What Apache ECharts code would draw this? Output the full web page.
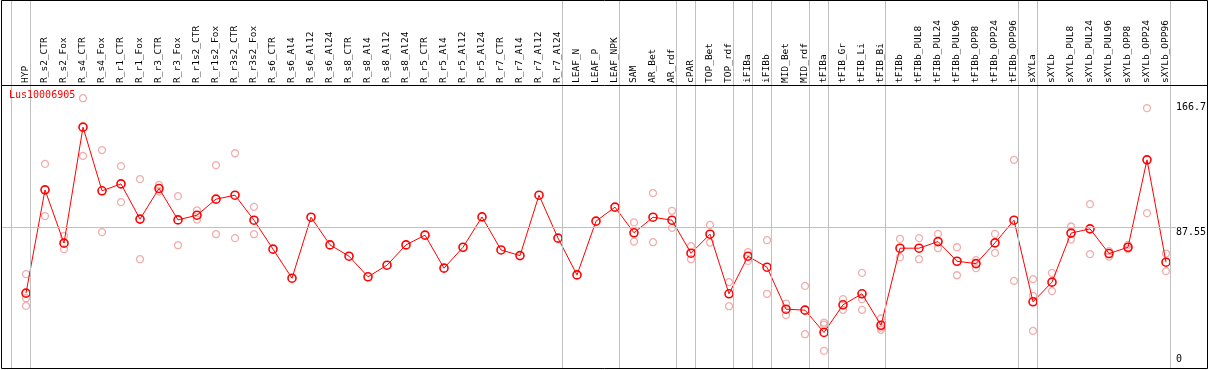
<!DOCTYPE html>
<html>
<head>
<meta charset="utf-8">
<script src="https://cdn.jsdelivr.net/npm/echarts@6/dist/echarts.min.js"></script>
<style>html,body{margin:0;padding:0;background:#fff;}#c{width:1209px;height:370px;}</style>
</head>
<body>
<div id="c"></div>
<script>
var title = 'Lus10006905';
var categories = ['HYP','R_s2_CTR','R_s2_Fox','R_s4_CTR','R_s4_Fox','R_r1_CTR','R_r1_Fox','R_r3_CTR','R_r3_Fox','R_r1s2_CTR','R_r1s2_Fox','R_r3s2_CTR','R_r3s2_Fox','R_s6_CTR','R_s6_Al4','R_s6_Al12','R_s6_Al24','R_s8_CTR','R_s8_Al4','R_s8_Al12','R_s8_Al24','R_r5_CTR','R_r5_Al4','R_r5_Al12','R_r5_Al24','R_r7_CTR','R_r7_Al4','R_r7_Al12','R_r7_Al24','LEAF_N','LEAF_P','LEAF_NPK','SAM','AR_Bet','AR_rdf','cPAR','TOP_Bet','TOP_rdf','iFIBa','iFIBb','MID_Bet','MID_rdf','tFIBa','tFIB_Gr','tFIB_Li','tFIB_Bi','tFIBb','tFIBb_PUL8','tFIBb_PUL24','tFIBb_PUL96','tFIBb_OPP8','tFIBb_OPP24','tFIBb_OPP96','sXYLa','sXYLb','sXYLb_PUL8','sXYLb_PUL24','sXYLb_PUL96','sXYLb_OPP8','sXYLb_OPP24','sXYLb_OPP96'];
var means = [45.6,111.3,77.4,151.2,110.7,115.1,92.7,112.2,92.2,95.2,105.4,107.9,92.0,73.6,55.1,93.9,76.3,69.1,56.0,63.4,76.3,82.5,61.5,74.8,94.1,73.1,69.5,107.9,80.6,57.2,91.4,100.3,84.0,93.9,92.0,71.0,83.1,45.2,69.1,62.1,35.4,34.8,20.6,38.2,45.2,25.2,74.2,74.2,78.4,65.9,64.4,77.6,92.0,40.1,52.6,83.8,86.5,70.8,74.8,130.4,65.3];
var rep1 = [57.7,127.8,82.0,169.6,136.6,126.4,118.1,114.5,107.3,98.2,127.0,134.6,100.5,null,null,null,null,null,null,null,null,null,null,null,null,null,null,null,null,null,null,null,90.6,109.2,98.0,75.5,89.0,52.6,71.7,79.3,39.0,50.2,26.8,41.8,58.5,29.5,80.1,80.6,83.3,74.8,66.6,83.3,130.4,54.5,58.5,88.0,102.2,72.3,76.3,163.3,70.8];
var rep2 = [42.4,94.6,73.6,132.9,84.4,103.5,67.2,110.2,76.1,92.4,83.1,80.6,83.1,null,null,null,null,null,null,null,null,null,null,null,null,null,null,null,null,null,null,null,78.4,78.0,87.1,67.2,77.8,37.3,66.1,45.2,31.6,19.5,25.6,35.0,41.8,23.7,68.5,67.2,74.2,57.0,61.5,71.2,53.4,43.9,46.9,79.7,70.4,68.9,73.6,96.5,59.6];
var rep3 = [37.5,null,null,null,null,null,null,null,null,null,null,null,null,null,null,null,null,null,null,null,null,null,null,null,null,null,null,null,null,null,null,null,null,null,null,null,null,null,null,null,null,null,8.9,null,35.0,22.3,null,null,null,null,null,null,null,21.6,null,null,null,null,null,null,null];
var groupEnds = [-1,0,28,31,34,35,37,38,39,41,42,45,52,53,60];
var rightTicksTop = [87.55,166.7];
var rightTicksBottom = [0];

var reps = [];
[rep1, rep2, rep3].forEach(function (r) {
  r.forEach(function (v, i) { if (v !== null) reps.push([i, v]); });
});

var chart = echarts.init(document.getElementById('c'), null, {renderer: 'canvas'});
var mono = 'DejaVu Sans Mono';
var yMin = -2, yMax = 178;
// separator grid spans pixels 1..1198; category i sits at 26 + 19*i
var sepMin = (1 - 26) / 19, sepMax = (1198 - 26) / 19;
chart.setOption({
  animation: false,
  backgroundColor: '#ffffff',
  title: {text: title, left: 9, top: 90, padding: 0,
    textStyle: {color: '#ff0000', fontSize: 10, fontFamily: mono, fontWeight: 'normal'}},
  graphic: [
    {type: 'rect', z: 100, silent: true, shape: {x: 1.5, y: 0.5, width: 1206, height: 368},
      style: {fill: 'none', stroke: '#000', lineWidth: 1}},
    {type: 'line', z: 100, silent: true, shape: {x1: 1.5, y1: 85.5, x2: 1207.5, y2: 85.5},
      style: {stroke: '#000', lineWidth: 1}}
  ],
  grid: [
    {left: 16.5, width: 1159, top: 85, height: 283},
    {left: 1, width: 1197, top: 0, height: 368},
    {left: 1, width: 1177, top: 85, height: 283}
  ],
  xAxis: [
    {type: 'category', gridIndex: 0, position: 'top', data: categories, boundaryGap: true,
      axisLine: {show: false}, axisTick: {show: false}, splitLine: {show: false},
      axisLabel: {rotate: 90, interval: 0, margin: 2, color: '#000', fontSize: 9.5, fontFamily: mono}},
    {type: 'value', gridIndex: 1, min: sepMin, max: sepMax, show: false},
    {type: 'value', gridIndex: 2, min: 0, max: 1, show: false}
  ],
  yAxis: [
    {type: 'value', gridIndex: 0, min: yMin, max: yMax, show: false},
    {type: 'value', gridIndex: 1, min: 0, max: 1, show: false},
    {type: 'value', gridIndex: 2, min: yMin, max: yMax, position: 'right',
      axisLine: {show: false}, axisTick: {show: false}, splitLine: {show: false},
      axisLabel: {customValues: rightTicksTop, margin: 0, verticalAlign: 'top', align: 'left',
        color: '#000', fontSize: 10, fontFamily: mono, formatter: function (v) { return String(v); }}},
    {type: 'value', gridIndex: 2, min: yMin, max: yMax, position: 'right',
      axisLine: {show: false}, axisTick: {show: false}, splitLine: {show: false},
      axisLabel: {customValues: rightTicksBottom, margin: 0, verticalAlign: 'bottom', align: 'left',
        color: '#000', fontSize: 10, fontFamily: mono, formatter: function (v) { return String(v); }}}
  ],
  series: [
    {type: 'line', xAxisIndex: 1, yAxisIndex: 1, data: [], silent: true,
      markLine: {silent: true, symbol: 'none', label: {show: false}, animation: false,
        lineStyle: {color: '#c0c0c0', width: 1, type: 'solid'},
        data: groupEnds.map(function (g) { return {xAxis: g + 0.2}; })}},
    {type: 'line', xAxisIndex: 2, yAxisIndex: 2, data: [], silent: true,
      markLine: {silent: true, symbol: 'none', label: {show: false}, animation: false,
        lineStyle: {color: '#c0c0c0', width: 1, type: 'solid'},
        data: [{yAxis: rightTicksTop[0]}]}},
    {type: 'scatter', xAxisIndex: 0, yAxisIndex: 0, data: reps, symbol: 'circle', symbolSize: 7,
      itemStyle: {color: 'rgba(0,0,0,0)', borderColor: '#ee9a9a', borderWidth: 1.3}, silent: true},
    {type: 'line', xAxisIndex: 0, yAxisIndex: 0, data: means, symbol: 'circle', symbolSize: 8,
      showAllSymbol: true, silent: true,
      lineStyle: {color: '#ff0000', width: 1},
      itemStyle: {color: 'rgba(0,0,0,0)', borderColor: '#ff0000', borderWidth: 1.6}}
  ]
});
</script>
</body>
</html>
